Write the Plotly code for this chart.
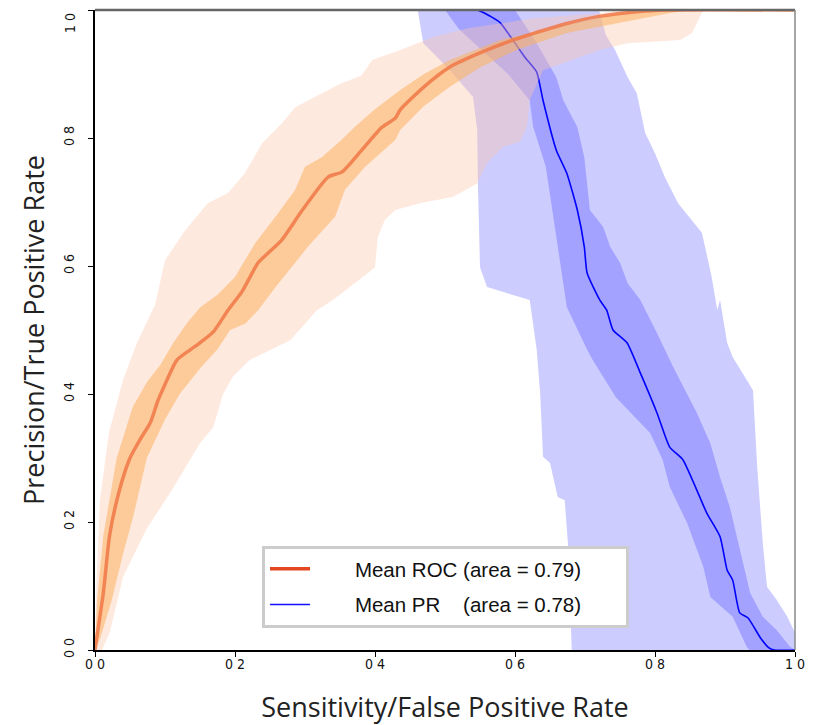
import plotly.graph_objects as go

# ---------------- ROC (orange) ----------------
roc_mean_x = [0, 0.004, 0.012, 0.021, 0.035, 0.05, 0.065, 0.079, 0.09, 0.1, 0.117, 0.136, 0.15, 0.169, 0.19,
              0.21, 0.233, 0.247, 0.267, 0.296, 0.333, 0.353, 0.381, 0.41, 0.429, 0.436, 0.47, 0.507, 0.55,
              0.597, 0.64, 0.674, 0.72, 0.77, 0.82, 1.0]
roc_mean_y = [0, 0.03, 0.09, 0.18, 0.25, 0.30, 0.33, 0.355, 0.39, 0.415, 0.453, 0.469, 0.48, 0.497, 0.531,
              0.56, 0.605, 0.62, 0.641, 0.687, 0.739, 0.747, 0.781, 0.817, 0.831, 0.844, 0.88, 0.911, 0.933,
              0.953, 0.968, 0.979, 0.99, 0.997, 1.0, 1.0]

roc_in_up_x = [0, 0.003, 0.012, 0.021, 0.031, 0.054, 0.075, 0.093, 0.112, 0.131, 0.15, 0.175, 0.2, 0.229,
               0.26, 0.286, 0.3, 0.324, 0.35, 0.371, 0.4, 0.436, 0.47, 0.507, 0.579, 0.674, 0.75, 0.8, 1.0]
roc_in_up_y = [0, 0.078, 0.18, 0.234, 0.3, 0.38, 0.42, 0.445, 0.48, 0.51, 0.535, 0.555, 0.583, 0.636,
               0.68, 0.719, 0.755, 0.77, 0.795, 0.817, 0.845, 0.875, 0.9, 0.922, 0.953, 0.977, 0.995, 1.0, 1.0]
roc_in_lo_x = [0, 0.008, 0.024, 0.04, 0.055, 0.074, 0.1, 0.121, 0.15, 0.175, 0.193, 0.215, 0.233, 0.26,
               0.286, 0.304, 0.343, 0.357, 0.386, 0.429, 0.436, 0.47, 0.507, 0.55, 0.603, 0.674, 0.75,
               0.82, 0.85, 1.0]
roc_in_lo_y = [0, 0.02, 0.078, 0.15, 0.21, 0.30, 0.36, 0.40, 0.44, 0.47, 0.5, 0.51, 0.531, 0.57,
               0.605, 0.63, 0.677, 0.719, 0.755, 0.797, 0.8125, 0.85, 0.88, 0.91, 0.938, 0.964, 0.98,
               0.995, 1.0, 1.0]

roc_out_up_x = [0, 0.002, 0.007, 0.02, 0.04, 0.06, 0.086, 0.1, 0.129, 0.161, 0.19, 0.214, 0.239, 0.267,
                0.286, 0.347, 0.381, 0.396, 0.436, 0.483, 0.531, 0.626, 0.721, 0.76, 1.0]
roc_out_up_y = [0, 0.1, 0.234, 0.34, 0.422, 0.48, 0.54, 0.609, 0.656, 0.698, 0.714, 0.745, 0.792, 0.823,
                0.848, 0.883, 0.898, 0.922, 0.9375, 0.958, 0.971, 0.987, 0.995, 1.0, 1.0]
roc_out_lo_x = [0, 0.01, 0.021, 0.03, 0.04, 0.074, 0.107, 0.15, 0.169, 0.183, 0.197, 0.221, 0.279, 0.317,
                0.34, 0.39, 0.4, 0.404, 0.414, 0.429, 0.464, 0.511, 0.546, 0.56, 0.583, 0.607, 0.617,
                0.621, 0.64, 0.721, 0.761, 0.836, 0.853, 0.869, 1.0]
roc_out_lo_y = [0, 0.0, 0.027, 0.07, 0.114, 0.19, 0.245, 0.323, 0.348, 0.40, 0.427, 0.453, 0.484, 0.531,
                0.547, 0.589, 0.598, 0.645, 0.672, 0.6875, 0.698, 0.708, 0.729, 0.761, 0.786, 0.794, 0.817,
                0.859, 0.906, 0.9375, 0.948, 0.953, 0.964, 1.0, 1.0]

# ---------------- PR (blue) ----------------
pr_mean_x = [0, 0.546, 0.565, 0.579, 0.597, 0.615, 0.631, 0.64, 0.659, 0.674, 0.689, 0.699, 0.703, 0.721,
             0.731, 0.74, 0.76, 0.779, 0.803, 0.821, 0.84, 0.874, 0.893, 0.903, 0.911, 0.921, 0.933, 0.95,
             0.961, 0.97, 1.0]
pr_mean_y = [1.0, 1.0, 0.99, 0.98, 0.953, 0.925, 0.903, 0.859, 0.781, 0.745, 0.6875, 0.63, 0.589, 0.547,
             0.531, 0.5, 0.48, 0.433, 0.37, 0.317, 0.297, 0.214, 0.177, 0.125, 0.109, 0.058, 0.05, 0.02,
             0.005, 0.0, 0.0]

pr_in_left_x = [0.5, 0.52, 0.55, 0.59, 0.621, 0.626, 0.644, 0.653, 0.664, 0.674, 0.703, 0.711, 0.744,
                0.793, 0.811, 0.821, 0.846, 0.869, 0.879, 0.911, 0.931, 0.935]
pr_in_left_y = [1.0, 0.97, 0.94, 0.9, 0.859, 0.817, 0.755, 0.6875, 0.609, 0.536, 0.469, 0.453, 0.395,
                0.339, 0.297, 0.255, 0.198, 0.13, 0.083, 0.052, 0.005, 0.0]
pr_in_right_x = [0.6, 0.63, 0.659, 0.669, 0.689, 0.699, 0.707, 0.726, 0.736, 0.75, 0.761, 0.779, 0.803,
                 0.826, 0.86, 0.879, 0.893, 0.907, 0.921, 0.936, 0.954, 0.974, 0.993, 1.0]
pr_in_right_y = [1.0, 0.95, 0.895, 0.859, 0.817, 0.77, 0.6875, 0.661, 0.63, 0.605, 0.573, 0.547, 0.495,
                 0.442, 0.37, 0.323, 0.27, 0.223, 0.161, 0.089, 0.052, 0.031, 0.005, 0.0]

pr_out_left_x = [0.461, 0.469, 0.483, 0.507, 0.54, 0.546, 0.547, 0.55, 0.56, 0.574, 0.621, 0.631, 0.636,
                 0.64, 0.65, 0.661, 0.671, 0.676, 0.681]
pr_out_left_y = [1.0, 0.948, 0.933, 0.906, 0.864, 0.8125, 0.729, 0.598, 0.567, 0.5625, 0.547, 0.469, 0.40,
                 0.302, 0.292, 0.239, 0.234, 0.161, 0.0]
pr_out_right_x = [0.72, 0.73, 0.743, 0.761, 0.774, 0.786, 0.8, 0.814, 0.833, 0.867, 0.881, 0.889, 0.893,
                  0.903, 0.911, 0.94, 0.946, 0.954, 0.96, 0.974, 0.989, 1.0, 1.0]
pr_out_right_y = [1.0, 0.96, 0.9375, 0.895, 0.87, 0.808, 0.776, 0.739, 0.698, 0.652, 0.583, 0.531, 0.547,
                  0.48, 0.458, 0.406, 0.286, 0.167, 0.099, 0.078, 0.052, 0.027, 0.0]

tick_vals = [0, 0.2, 0.4, 0.6, 0.8, 1.0]
tick_text = ["0 0", "0 2", "0 4", "0 6", "0 8", "1 0"]

NB = "\u00a0"
legend_roc = NB * 7 + "Mean ROC (area = 0.79)" + NB * 7
legend_pr = NB * 7 + "Mean PR" + NB * 4 + "(area = 0.78)" + NB * 7


def band(x_up, y_up, x_lo, y_lo):
    return list(x_up) + list(reversed(x_lo)), list(y_up) + list(reversed(y_lo))


fig = go.Figure()

# PR bands
bx, by = band(pr_out_left_x, pr_out_left_y, pr_out_right_x, pr_out_right_y)
fig.add_trace(go.Scatter(x=bx, y=by, fill="toself", fillcolor="rgba(0,0,255,0.2)",
                         line=dict(width=0), mode="lines", showlegend=False, hoverinfo="skip"))
bx, by = band(pr_in_left_x, pr_in_left_y, pr_in_right_x, pr_in_right_y)
fig.add_trace(go.Scatter(x=bx, y=by, fill="toself", fillcolor="rgba(0,0,255,0.2)",
                         line=dict(width=0), mode="lines", showlegend=False, hoverinfo="skip"))
fig.add_trace(go.Scatter(x=pr_mean_x, y=pr_mean_y, mode="lines",
                         line=dict(color="rgb(0,0,255)", width=1.6, shape="spline", smoothing=0.5),
                         showlegend=False))

# ROC bands
bx, by = band(roc_out_up_x, roc_out_up_y, roc_out_lo_x, roc_out_lo_y)
fig.add_trace(go.Scatter(x=bx, y=by, fill="toself", fillcolor="rgba(252,196,170,0.38)",
                         line=dict(width=0), mode="lines", showlegend=False, hoverinfo="skip"))
bx, by = band(roc_in_up_x, roc_in_up_y, roc_in_lo_x, roc_in_lo_y)
fig.add_trace(go.Scatter(x=bx, y=by, fill="toself", fillcolor="rgba(252,178,96,0.55)",
                         line=dict(width=0), mode="lines", showlegend=False, hoverinfo="skip"))
fig.add_trace(go.Scatter(x=roc_mean_x, y=roc_mean_y, mode="lines",
                         line=dict(color="rgba(240,120,70,0.85)", width=3.5, shape="spline", smoothing=0.6),
                         showlegend=False))

# legend entries
fig.add_trace(go.Scatter(x=[None], y=[None], mode="lines", name=legend_roc, legendgroup="a",
                         line=dict(color="#e2471f", width=3.5)))
fig.add_trace(go.Scatter(x=[None], y=[None], mode="lines", name=legend_pr, legendgroup="b",
                         line=dict(color="#1010ff", width=1.6)))

# frame: top and right borders
fig.add_shape(type="line", xref="paper", yref="paper", x0=0, x1=1, y0=1, y1=1,
              line=dict(color="#666666", width=2.5))
fig.add_shape(type="line", xref="paper", yref="paper", x0=1, x1=1, y0=0, y1=1,
              line=dict(color="#888888", width=1.5))

tickfont = dict(family="DejaVu Sans Condensed, Liberation Sans Narrow, Arial", size=14, color="#111")
titlefont = dict(family="Open Sans, Noto Sans, sans-serif", size=27, color="#222")

# top y tick label (kept inside the figure, as in the original)
fig.add_annotation(xref="paper", yref="y", x=-25 / 700, y=1.0, text=tick_text[-1], showarrow=False,
                   textangle=-90, font=tickfont, xanchor="center", yanchor="middle", yshift=-13)

y_ticktext = tick_text[:-1] + [""]

fig.update_layout(
    width=818, height=717,
    margin=dict(l=87, r=31, t=2, b=75),
    paper_bgcolor="white", plot_bgcolor="white",
    showlegend=True,
    legend=dict(x=0.2386, y=0.1625, xanchor="left", yanchor="top",
                bgcolor="white", bordercolor="#cccccc", borderwidth=3,
                font=dict(family="Liberation Sans, Arial", size=20.5, color="#111"),
                itemwidth=40, tracegroupgap=6, traceorder="grouped"),
    xaxis=dict(range=[0, 1], showgrid=False, zeroline=False, showline=True, linecolor="black",
               linewidth=1.5, ticks="outside", ticklen=5, tickcolor="black", automargin=False,
               tickvals=tick_vals, ticktext=tick_text, tickfont=tickfont, ticklabelstandoff=-5,
               title=dict(text="Sensitivity/False Positive Rate", font=titlefont, standoff=29)),
    yaxis=dict(range=[0, 1], showgrid=False, zeroline=False, showline=True, linecolor="black",
               linewidth=1.5, ticks="outside", ticklen=5, tickcolor="black", automargin=False,
               tickvals=tick_vals, ticktext=y_ticktext, tickfont=tickfont, tickangle=-90,
               ticklabelstandoff=9,
               title=dict(text="Precision/True Positive Rate", font=titlefont, standoff=8)),
)

fig.write_html("out.html")
